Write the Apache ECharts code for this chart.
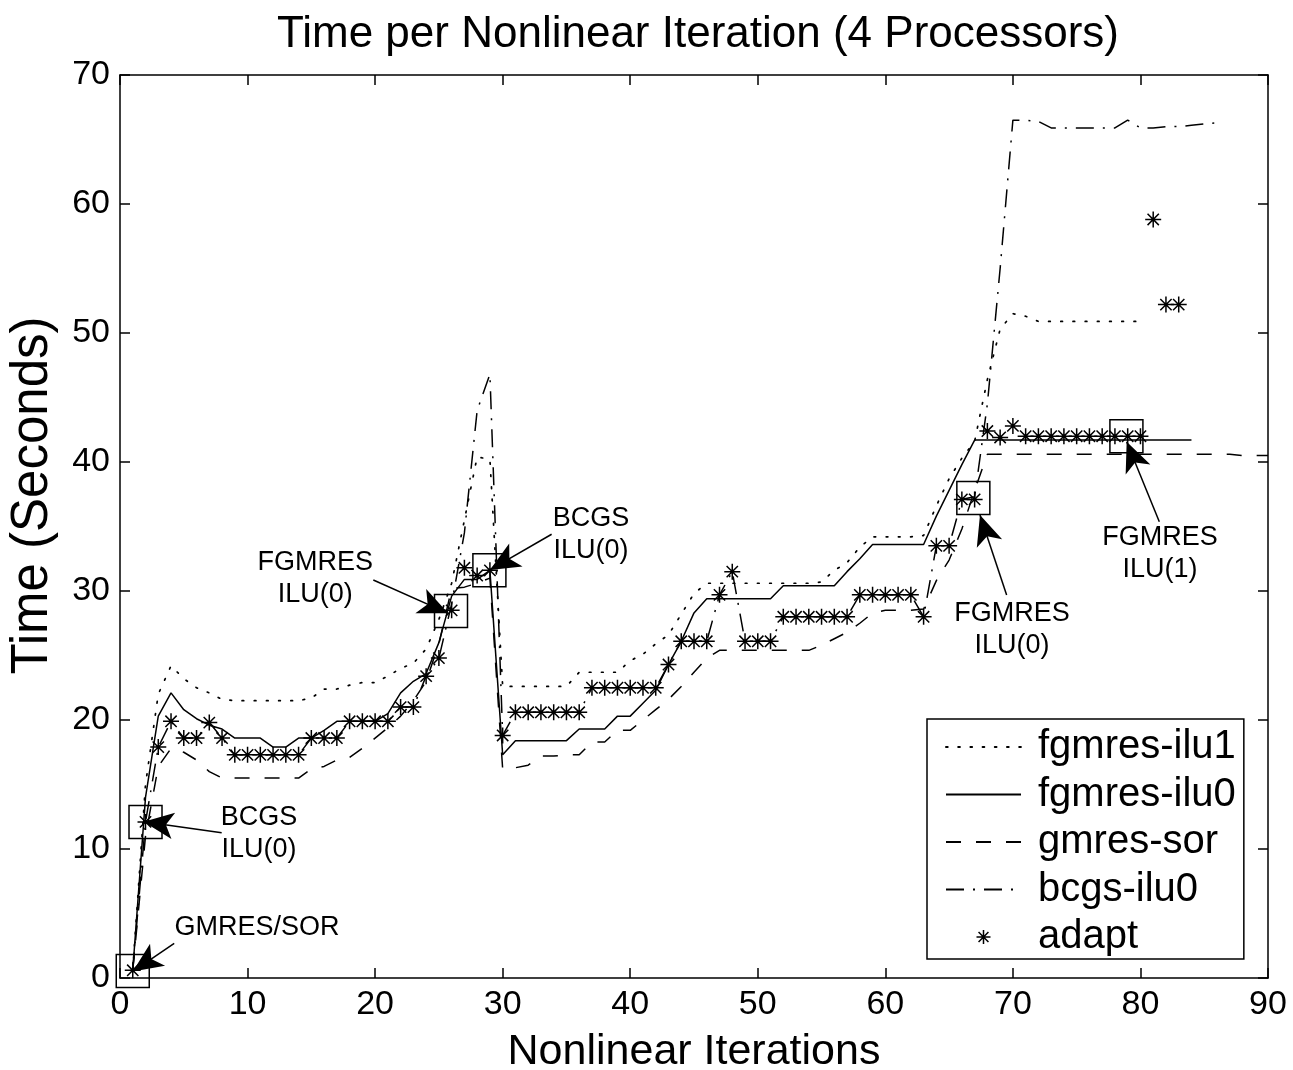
<!DOCTYPE html>
<html>
<head>
<meta charset="utf-8">
<script src="https://cdn.jsdelivr.net/npm/echarts/dist/echarts.min.js"></script>
<style>
html,body{margin:0;padding:0;background:#ffffff;}
#chart{width:1293px;height:1070px;}
</style>
</head>
<body>
<div id="chart"></div>
<script>
// ---- Data (iteration index = position + 1) ----
const fgmresIlu1 = [0.6,15.0,22.0,24.2,23.2,22.5,22.1,21.6,21.5,21.5,
  21.5,21.5,21.5,21.5,21.7,22.4,22.4,22.7,22.9,22.9,
  23.4,24.0,24.4,25.5,27.8,30.6,35.5,40.4,40.2,22.6,
  22.6,22.6,22.6,22.6,22.6,23.7,23.7,23.7,23.7,24.6,
  25.1,25.9,26.6,28.2,29.8,30.6,30.6,30.6,30.6,30.6,
  30.6,30.6,30.6,30.6,30.7,31.6,32.2,33.4,34.2,34.2,
  34.2,34.2,34.3,36.6,38.7,40.3,41.6,46.4,50.3,51.5,
  51.3,50.9,50.9,50.9,50.9,50.9,50.9,50.9,50.9,50.9];

const fgmresIlu0 = [0.6,14.0,20.3,22.1,20.8,20.1,19.6,19.3,18.6,18.6,
  18.6,17.9,17.9,18.6,18.6,19.2,19.9,19.9,19.9,19.9,
  20.5,22.1,23.0,23.6,26.0,29.6,30.9,30.9,31.6,17.3,
  18.4,18.4,18.4,18.4,18.4,19.3,19.3,19.3,20.3,20.3,
  21.3,22.3,24.3,26.1,28.3,29.4,29.4,29.4,29.4,29.4,
  29.4,30.4,30.4,30.4,30.4,30.4,31.5,32.5,33.6,33.6,
  33.6,33.6,33.6,35.8,37.8,39.8,41.7,41.7,41.7,41.7,
  41.7,41.7,41.7,41.7,41.7,41.7,41.7,41.7,41.7,41.7,
  41.7,41.7,41.7,41.7];

const gmresSor = [0.6,11.0,16.4,17.8,17.5,16.9,16.0,15.5,15.5,15.5,
  15.5,15.5,15.5,15.5,16.2,16.4,16.9,17.1,17.8,18.6,
  19.4,20.3,21.5,23.0,25.9,30.2,30.3,30.6,31.0,16.2,
  16.3,16.5,17.2,17.2,17.3,17.3,18.3,18.3,19.2,19.2,
  20.0,20.8,21.6,22.6,23.7,24.8,25.4,25.4,25.4,25.4,
  25.4,25.4,25.4,25.4,25.8,26.3,26.8,27.5,28.3,28.5,
  28.5,28.5,28.6,30.8,32.4,34.8,37.8,40.6,40.6,40.6,
  40.6,40.6,40.6,40.6,40.6,40.6,40.6,40.6,40.6,40.6,
  40.6,40.6,40.6,40.6,40.6,40.6,40.6,40.5,40.5,40.5];

const bcgsIlu0 = [0.6,12.1,17.9,19.9,18.6,18.6,19.8,18.6,17.3,17.3,
  17.3,17.3,17.3,17.3,18.6,18.6,18.6,19.9,19.9,19.9,
  19.9,21.0,21.0,23.4,24.8,29.0,34.5,44.0,46.8,18.8,
  20.6,20.6,20.6,20.6,20.6,20.6,22.5,22.5,22.5,22.5,
  22.5,22.5,24.3,26.1,26.1,26.1,29.7,31.5,26.1,26.1,
  26.1,28.0,28.0,28.0,28.0,28.0,28.0,29.7,29.7,29.7,
  29.7,29.7,28.0,33.5,33.5,37.1,37.3,44.5,55.0,66.5,
  66.5,66.4,65.9,65.9,65.9,65.9,65.9,65.9,66.5,65.9,
  65.9,66.0,66.0,66.1,66.2,66.3];

const adapt = [0.6,12.1,17.9,19.9,18.6,18.6,19.8,18.6,17.3,17.3,
  17.3,17.3,17.3,17.3,18.6,18.6,18.6,19.9,19.9,19.9,
  19.9,21.0,21.0,23.4,24.8,28.5,31.8,31.2,31.6,18.8,
  20.6,20.6,20.6,20.6,20.6,20.6,22.5,22.5,22.5,22.5,
  22.5,22.5,24.3,26.1,26.1,26.1,29.7,31.5,26.1,26.1,
  26.1,28.0,28.0,28.0,28.0,28.0,28.0,29.7,29.7,29.7,
  29.7,29.7,28.0,33.5,33.5,37.1,37.1,42.4,41.9,42.8,
  42.0,42.0,42.0,42.0,42.0,42.0,42.0,42.0,42.0,42.0,
  58.8,52.2,52.2];

const xTicks = [0,10,20,30,40,50,60,70,80,90];
const yTicks = [0,10,20,30,40,50,60,70];

// Solver switch points highlighted with boxes (iteration, time)
const switchBoxes = [[1.0,0.55],[2.0,12.1],[25.95,28.45],[28.96,31.6],[66.9,37.2],[78.9,42.0]];
// Annotation labels: text and anchor (iteration, time)
const annotTexts = ['GMRES/SOR','BCGS\nILU(0)','FGMRES\nILU(0)','BCGS\nILU(0)','FGMRES\nILU(0)','FGMRES\nILU(1)'];
const annotAt = [[10.74,3.9],[10.9,11.2],[15.3,30.95],[36.92,34.35],[69.93,27.05],[81.53,32.9]];
// Arrows: from (near label) to tip (at switch point)
const arrowFrom = [[4.25,2.69],[7.97,11.26],[19.86,30.85],[33.84,34.4],[69.51,29.69],[81.48,35.37]];
const arrowTo = [[1.0,0.5],[1.85,12.12],[25.73,28.27],[29.0,31.63],[67.42,35.89],[78.92,41.57]];

// ---- Build ----
const toXY = arr => arr.map((v, i) => [i + 1, v]);
const FONT = "'Liberation Sans', Arial, Helvetica, sans-serif";
const STAR = 'path://M0,-1L0,1M-1,0L1,0M-0.7071,-0.7071L0.7071,0.7071M-0.7071,0.7071L0.7071,-0.7071';
const NO_SYMBOL = {color: 'transparent', borderColor: 'transparent', borderWidth: 0, opacity: 0};

const chart = echarts.init(document.getElementById('chart'), null, {renderer: 'canvas'});

const axisCommon = {
  min: 0,
  axisLine: {show: true, onZero: false, lineStyle: {color: '#000', width: 1.5}},
  axisTick: {show: true, inside: true, length: 10, lineStyle: {color: '#000', width: 1.5}},
  splitLine: {show: false}
};

const option = {
  backgroundColor: '#ffffff',
  animation: false,
  textStyle: {fontFamily: FONT, color: '#000'},
  title: {
    text: 'Time per Nonlinear Iteration (4 Processors)',
    left: 277, top: 13, padding: 0,
    textStyle: {fontFamily: FONT, fontSize: 44, fontWeight: 'normal', color: '#000'}
  },
  grid: {left: 120, right: 25, top: 75, bottom: 92, containLabel: false, outerBoundsMode: 'none'},
  xAxis: [
    Object.assign({}, axisCommon, {
      type: 'value', max: 90, interval: 10, position: 'bottom',
      name: 'Nonlinear Iterations', nameLocation: 'middle', nameGap: 53,
      nameTextStyle: {fontFamily: FONT, fontSize: 43, color: '#000'},
      axisLabel: {show: true, fontSize: 34, color: '#000', margin: 10, fontFamily: FONT,
        formatter: v => (xTicks.indexOf(v) >= 0 ? String(v) : '')}
    }),
    Object.assign({}, axisCommon, {
      type: 'value', max: 90, interval: 10, position: 'top',
      axisLabel: {show: false}
    })
  ],
  yAxis: [
    Object.assign({}, axisCommon, {
      type: 'value', max: 70, interval: 10, position: 'left',
      name: 'Time (Seconds)', nameLocation: 'middle', nameGap: 62,
      nameTextStyle: {fontFamily: FONT, fontSize: 51, color: '#000', padding: [0, 0, 0, 62]},
      axisLabel: {show: true, fontSize: 34, color: '#000', margin: 10, fontFamily: FONT,
        formatter: v => (yTicks.indexOf(v) >= 0 ? String(v) : '')}
    }),
    Object.assign({}, axisCommon, {
      type: 'value', max: 70, interval: 10, position: 'right',
      axisLabel: {show: false}
    })
  ],
  legend: {
    orient: 'vertical',
    left: 927, top: 719,
    padding: [8, 8, 2, 18],
    backgroundColor: '#ffffff',
    borderColor: '#000', borderWidth: 1.5,
    itemWidth: 75, itemHeight: 14, itemGap: 7.5,
    textStyle: {fontFamily: FONT, fontSize: 40, lineHeight: 40, color: '#000', padding: [0, 0, 0, 12]},
    selectedMode: false,
    data: [
      {name: 'fgmres-ilu1', itemStyle: NO_SYMBOL},
      {name: 'fgmres-ilu0', itemStyle: NO_SYMBOL},
      {name: 'gmres-sor', itemStyle: NO_SYMBOL},
      {name: 'bcgs-ilu0', itemStyle: NO_SYMBOL},
      {name: 'adapt', icon: STAR, itemStyle: {color: 'transparent', borderColor: '#000', borderWidth: 1.5, opacity: 1}}
    ]
  },
  series: [
    {
      name: 'fgmres-ilu1', type: 'line', data: toXY(fgmresIlu1), symbol: 'none', silent: true,
      lineStyle: {color: '#000', width: 1.7, type: [1.7, 10.5], cap: 'round'},
      itemStyle: {color: '#000'}
    },
    {
      name: 'fgmres-ilu0', type: 'line', data: toXY(fgmresIlu0), symbol: 'none', silent: true,
      lineStyle: {color: '#000', width: 1.5, type: 'solid'},
      itemStyle: {color: '#000'}
    },
    {
      name: 'gmres-sor', type: 'line', data: toXY(gmresSor), symbol: 'none', silent: true,
      lineStyle: {color: '#000', width: 1.5, type: [15, 15]},
      itemStyle: {color: '#000'}
    },
    {
      name: 'bcgs-ilu0', type: 'line', data: toXY(bcgsIlu0), symbol: 'none', silent: true,
      lineStyle: {color: '#000', width: 1.5, type: [18, 9, 2, 9]},
      itemStyle: {color: '#000'}
    },
    {
      name: 'adapt', type: 'scatter', data: toXY(adapt), symbol: STAR, symbolSize: 16, silent: true,
      itemStyle: {color: 'transparent', borderColor: '#000', borderWidth: 1.5, opacity: 1},
      z: 5
    },
    {
      name: 'switch', type: 'scatter', data: switchBoxes, symbol: 'rect', symbolSize: 33, silent: true,
      itemStyle: {color: 'transparent', borderColor: '#000', borderWidth: 1.5, opacity: 1},
      z: 4
    },
    {
      name: 'annotations', type: 'scatter', silent: true, symbolSize: 1,
      itemStyle: {color: 'transparent', opacity: 1},
      data: annotTexts.map((t, i) => ({name: t, value: annotAt[i]})),
      label: {show: true, position: 'inside', formatter: '{b}', fontFamily: FONT, fontSize: 27,
        lineHeight: 32, color: '#000', opacity: 1, align: 'center', verticalAlign: 'middle'},
      markLine: {
        silent: true, animation: false,
        symbol: ['none', 'arrow'],
        label: {show: false},
        lineStyle: {color: '#000', width: 1.5, type: 'solid', opacity: 1},
        emphasis: {disabled: true},
        data: arrowFrom.map((f, i) => [
          {coord: f, symbol: 'none'},
          {coord: arrowTo[i], symbol: 'arrow', symbolSize: [20, 30]}
        ])
      },
      z: 6
    }
  ]
};

chart.setOption(option);
</script>
</body>
</html>
